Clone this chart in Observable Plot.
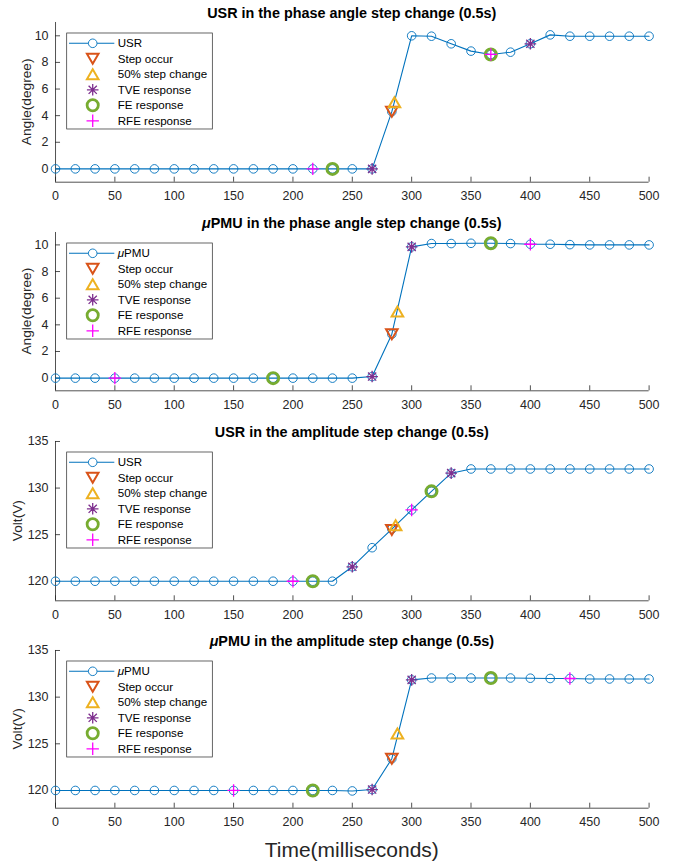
<!DOCTYPE html>
<html><head><meta charset="utf-8">
<script src="https://cdn.jsdelivr.net/npm/d3@7"></script>
<script src="https://cdn.jsdelivr.net/npm/@observablehq/plot@0.6"></script>
<style>
body{margin:0;background:#fff}
#chart{position:relative;width:683px;height:867px;font-family:"Liberation Sans",Arial,sans-serif}
#chart svg{position:absolute;left:0}
</style></head><body><div id="chart"></div>
<script>
// sample times (ms)
const time = [0,16.7,33.3,50,66.7,83.3,100,116.7,133.3,150,166.7,183.3,200,216.7,233.3,250,266.7,283.3,300,316.7,333.3,350,366.7,383.3,400,416.7,433.3,450,466.7,483.3,500];
const xTicks = [0,50,100,150,200,250,300,350,400,450,500];
const angleTicks = [0,2,4,6,8,10];
const voltTicks = [120,125,130,135];

// series values
const usrPhase  = [0,0,0,0,0,0,0,0,0,0,0,0,0,0,0,0,0,4.3,10,9.97,9.4,8.85,8.6,8.77,9.4,10.07,9.97,9.97,9.97,9.97,9.97];
const upmuPhase = [0,0,0,0,0,0,0,0,0,0,0,0,0,0,0,0,0.12,3.3,9.85,10.1,10.1,10.12,10.12,10.1,10.05,10.05,10.02,10,10,10,10];
const usrAmp    = [120,120,120,120,120,120,120,120,120,120,120,120,120,120,120,121.55,123.6,125.6,127.65,129.65,131.6,132.05,132.05,132.05,132.05,132.05,132.05,132.05,132.05,132.05,132.05];
const upmuAmp   = [120,120,120,120,120,120,120,120,120,120,120,120,120,120,120,119.95,120.1,123.4,131.85,132.05,132.05,132.05,132.05,132.05,132.03,132,132,131.95,131.95,131.95,131.95];

// event markers [time, value]
const usrPhaseMarks  = {step:[[283.3,4.3]], half:[[285.5,5.0]], tve:[[266.7,0],[400,9.4]], fe:[[233.3,0],[366.7,8.6]], rfe:[[216.7,0],[366.7,8.6]]};
const upmuPhaseMarks = {step:[[283.3,3.3]], half:[[288,5.0]], tve:[[266.7,0.12],[300,9.85]], fe:[[183.3,0],[366.7,10.12]], rfe:[[50,0],[400,10.05]]};
const usrAmpMarks    = {step:[[283.3,125.5]], half:[[286.5,126.0]], tve:[[250,121.55],[333.3,131.6]], fe:[[216.7,120],[316.7,129.65]], rfe:[[200,120],[300,127.65]]};
const upmuAmpMarks   = {step:[[283.3,123.4]], half:[[288,126.1]], tve:[[266.7,120.1],[300,131.85]], fe:[[216.7,120],[366.7,132.05]], rfe:[[150,120],[433.3,132.0]]};

const C = {line:"#0072BD", step:"#D95319", half:"#EDB120", tve:"#7E2F8E", fe:"#77AC30", rfe:"#FF00FF", axis:"#262626"};
const FONT = '"Liberation Sans", Arial, sans-serif';

function sym(fn){return {draw(ctx,size){const r=Math.sqrt(size/Math.PI); fn(ctx,r);}};}
const triDown = sym((c,r)=>{const h=r*Math.sqrt(3); c.moveTo(-r,-h/2); c.lineTo(r,-h/2); c.lineTo(0,h/2); c.closePath();});
const triUp = sym((c,r)=>{const h=r*Math.sqrt(3); c.moveTo(-r,h/2); c.lineTo(r,h/2); c.lineTo(0,-h/2); c.closePath();});
const star8 = sym((c,r)=>{const d=r*Math.SQRT1_2; c.moveTo(-r,0);c.lineTo(r,0);c.moveTo(0,-r);c.lineTo(0,r);c.moveTo(-d,-d);c.lineTo(d,d);c.moveTo(-d,d);c.lineTo(d,-d);});
const plus = sym((c,r)=>{c.moveTo(-r,0);c.lineTo(r,0);c.moveTo(0,-r);c.lineTo(0,r);});
const circ = sym((c,r)=>{c.moveTo(r,0); c.arc(0,0,r,0,2*Math.PI);});

const markerStyles = [
  {key:"step", label:"Step occur", symbol:triDown, r:5.8, stroke:C.step, sw:2},
  {key:"half", label:"50% step change", symbol:triUp, r:5.8, stroke:C.half, sw:2},
  {key:"tve", label:"TVE response", symbol:star8, r:5.8, stroke:C.tve, sw:1.3},
  {key:"fe", label:"FE response", symbol:circ, r:5.6, stroke:C.fe, sw:2.8},
  {key:"rfe", label:"RFE response", symbol:plus, r:6.2, stroke:C.rfe, sw:1.3}
];

const panels = [
  {pre:"USR", rest:" in the phase angle step change (0.5s)", series:"USR", mu:false, values:usrPhase, marks:usrPhaseMarks, yDomain:[-1,11], yTicks:angleTicks, yLabel:"Angle(degree)", yLabelX:26, top:0, ph:159.7, mb:28},
  {pre:"PMU", rest:" in the phase angle step change (0.5s)", series:"PMU", mu:true, values:upmuPhase, marks:upmuPhaseMarks, yDomain:[-0.95,10.93], yTicks:angleTicks, yLabel:"Angle(degree)", yLabelX:26, top:209.7, ph:158.3, mb:28},
  {pre:"USR", rest:" in the amplitude step change (0.5s)", series:"USR", mu:false, values:usrAmp, marks:usrAmpMarks, yDomain:[117.9,135], yTicks:voltTicks, yLabel:"Volt(V)", yLabelX:17.5, top:418.7, ph:159.3, mb:28},
  {pre:"PMU", rest:" in the amplitude step change (0.5s)", series:"PMU", mu:true, values:upmuAmp, marks:upmuAmpMarks, yDomain:[118.1,135], yTicks:voltTicks, yLabel:"Volt(V)", yLabelX:17.5, top:628, ph:157.7, mb:60, xLabel:"Time(milliseconds)"}
];

const ML = 55, MR = 34.4, MT = 22, W = 683;
const pw = W - ML - MR;
const root = document.getElementById("chart");

panels.forEach(p => {
  const samples = time.map((t,i)=>({t, v:p.values[i]}));
  const svg = Plot.plot({
    width:W, height:MT+p.ph+p.mb, marginLeft:ML, marginRight:MR, marginTop:MT, marginBottom:p.mb,
    x:{domain:[0,500]}, y:{domain:p.yDomain},
    style:{fontFamily:FONT, color:C.axis, background:"transparent", overflow:"visible"},
    marks:[
      Plot.ruleX([0], {stroke:C.axis, strokeWidth:0.8}),
      Plot.ruleY([p.yDomain[0]], {stroke:C.axis, strokeWidth:0.8}),
      Plot.tickX(xTicks, {x:d=>d, insetTop:p.ph-5, stroke:C.axis, strokeWidth:0.8}),
      Plot.tickY(p.yTicks, {y:d=>d, insetRight:pw-5, stroke:C.axis, strokeWidth:0.8}),
      Plot.axisX(xTicks, {tickSize:0, tickPadding:9, fontSize:12.5, label:null}),
      Plot.axisY(p.yTicks, {tickSize:0, tickPadding:7, fontSize:12.5, label:null}),
      Plot.line(samples, {x:"t", y:"v", stroke:C.line, strokeWidth:1.1}),
      Plot.dot(samples, {x:"t", y:"v", r:4.3, stroke:C.line, strokeWidth:0.9, fill:"none"}),
      ...markerStyles.map(m => Plot.dot(p.marks[m.key], {x:d=>d[0], y:d=>d[1], symbol:m.symbol, r:m.r, stroke:m.stroke, strokeWidth:m.sw, fill:"none"}))
    ]
  });
  svg.style.top = p.top + "px";
  root.appendChild(svg);
  const s = d3.select(svg);

  // title
  const title = s.append("text").attr("x", ML+pw/2).attr("y", 13).attr("text-anchor","middle")
    .attr("dominant-baseline","central").attr("font-weight","bold").attr("font-size",14.4)
    .attr("fill","#000").attr("font-family",FONT);
  if (p.mu) title.append("tspan").attr("font-style","italic").text("μ");
  title.append("tspan").text(p.pre + p.rest);

  // y label
  s.append("text").attr("transform",`translate(${p.yLabelX},${MT+p.ph/2}) rotate(-90)`)
    .attr("text-anchor","middle").attr("dominant-baseline","central").attr("font-size",13.7)
    .attr("fill",C.axis).attr("font-family",FONT).text(p.yLabel);

  // x label
  if (p.xLabel) {
    s.append("text").attr("x", ML+pw/2).attr("y", 222).attr("text-anchor","middle")
      .attr("dominant-baseline","central").attr("font-size",21).attr("fill",C.axis)
      .attr("font-family",FONT).text(p.xLabel);
  }

  // legend
  const lg = s.append("g").attr("text-anchor","start");
  lg.append("rect").attr("x",66.7).attr("y",33).attr("width",145.6).attr("height",96)
    .attr("fill","#fff").attr("stroke",C.axis).attr("stroke-width",0.7);
  const rowY = k => 43.3 + k*15.5;
  const mx = 92.7, tx = 117.7;
  lg.append("line").attr("x1",69).attr("x2",114.3).attr("y1",rowY(0)).attr("y2",rowY(0))
    .attr("stroke",C.line).attr("stroke-width",1.1);
  lg.append("circle").attr("cx",mx).attr("cy",rowY(0)).attr("r",4.3).attr("fill","#fff")
    .attr("stroke",C.line).attr("stroke-width",0.9);
  const t0 = lg.append("text").attr("x",tx).attr("y",rowY(0)).attr("dominant-baseline","central")
    .attr("text-anchor","start").attr("font-size",11.6).attr("fill","#000").attr("font-family",FONT);
  if (p.mu) t0.append("tspan").attr("font-style","italic").text("μ");
  t0.append("tspan").text(p.series);
  markerStyles.forEach((m,k) => {
    const y = rowY(k+1);
    lg.append("path").attr("d", d3.symbol(m.symbol, Math.PI*m.r*m.r)())
      .attr("transform",`translate(${mx},${y})`).attr("fill","none")
      .attr("stroke",m.stroke).attr("stroke-width",m.sw);
    lg.append("text").attr("x",tx).attr("y",y).attr("dominant-baseline","central")
      .attr("text-anchor","start").attr("font-size",11.6).attr("fill","#000").attr("font-family",FONT).text(m.label);
  });
});
</script></body></html>
